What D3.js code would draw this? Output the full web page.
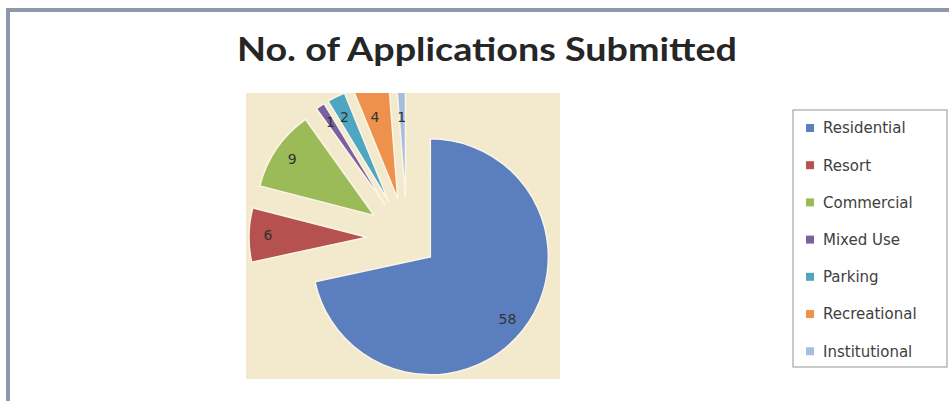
<!DOCTYPE html>
<html><head><meta charset="utf-8">
<script src="https://cdn.jsdelivr.net/npm/d3@7"></script>
<style>body{margin:0;background:#fff}svg{display:block}</style></head>
<body><svg id="c" width="949" height="401"></svg>
<script>
const categories = ["Residential","Resort","Commercial","Mixed Use","Parking","Recreational","Institutional"];
const values = [58,6,9,1,2,4,1];
const colors = ["#5B7EBF","#B5514E","#9BBB59","#7B5FA0","#4FA6C2","#EE914D","#A6BDE0"];
const title = "No. of Applications Submitted";

const svg = d3.select("#c");
// chart frame
svg.append("rect").attr("x",8).attr("y",10).attr("width",970).attr("height",430)
  .attr("fill","#fff").attr("stroke","#8d99aa").attr("stroke-width",4);

svg.append("text").attr("x",487).attr("y",61).attr("text-anchor","middle")
  .attr("font-family","Lato, 'Open Sans', sans-serif").attr("font-weight","bold")
  .attr("font-size",32).attr("fill","#262626")
  .attr("textLength",500).attr("lengthAdjust","spacingAndGlyphs").text(title);

// plot area
const pa = {x:246,y:93,w:314,h:286};
svg.append("defs").append("clipPath").attr("id","pc").append("rect")
  .attr("x",pa.x).attr("y",pa.y).attr("width",pa.w).attr("height",pa.h);
svg.append("rect").attr("x",pa.x).attr("y",pa.y).attr("width",pa.w).attr("height",pa.h).attr("fill","#f3e9cd");

const cx = 407, cy = 238, r = 118;
const pie = d3.pie().sort(null).value(d=>d)(values);
const arc = d3.arc().innerRadius(0).outerRadius(r);
const g = svg.append("g").attr("clip-path","url(#pc)").append("g").attr("transform",`translate(${cx},${cy})`);
const off = (d,i)=>{ const a=(d.startAngle+d.endAngle)/2, e = i===0?30:40; return [Math.sin(a)*e, -Math.cos(a)*e]; };
g.selectAll("path").data(pie).join("path")
  .attr("transform",(d,i)=>{const o=off(d,i);return `translate(${o[0]},${o[1]})`;})
  .attr("d",arc).attr("fill",(d,i)=>colors[i]).attr("stroke","#fbf6e6").attr("stroke-width",1.5);
const la = d3.arc().innerRadius(r*0.84).outerRadius(r*0.84);
const minY = pa.y + 24 - cy;
g.selectAll("text").data(pie).join("text")
  .attr("transform",(d,i)=>{const o=off(d,i),c=la.centroid(d);return `translate(${c[0]+o[0]},${Math.max(minY,c[1]+o[1])})`;})
  .attr("text-anchor","middle").attr("dy","0.35em")
  .attr("font-family","'DejaVu Sans', sans-serif").attr("font-size",14).attr("fill","#333")
  .text(d=>d.data);

// legend
const lg = svg.append("g");
lg.append("rect").attr("x",793).attr("y",110).attr("width",154).attr("height",257)
  .attr("fill","#fff").attr("stroke","#a6a6a6").attr("stroke-width",1.2);
const items = lg.selectAll("g.it").data(categories).join("g").attr("class","it")
  .attr("transform",(d,i)=>`translate(806,${128+i*37.2})`);
items.append("rect").attr("x",0).attr("y",-4).attr("width",8).attr("height",8).attr("fill",(d,i)=>colors[i]);
items.append("text").attr("x",17).attr("dy","0.36em").attr("font-family","'DejaVu Sans', sans-serif")
  .attr("font-size",15).attr("fill","#404040").text(d=>d);
</script></body></html>
